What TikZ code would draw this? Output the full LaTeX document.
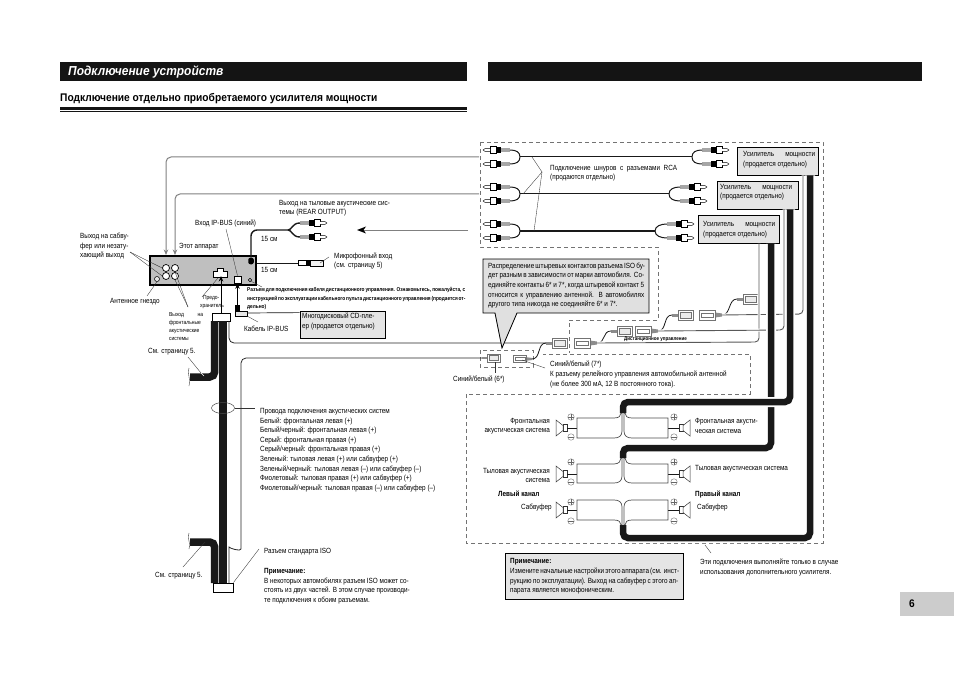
\documentclass[tikz,border=0pt]{standalone}
\usepackage{fontspec}
\usetikzlibrary{arrows.meta,shapes.geometric}
\setmainfont[FakeStretch=0.85]{Liberation Sans}
\newfontfamily\headfont[FakeStretch=0.92]{Liberation Sans}
\newcommand{\jline}[2]{\makebox[#1pt][s]{#2}}

\begin{document}
\begin{tikzpicture}[x=1pt,y=-1pt]
    \tikzstyle{arrow} = [line width=0.5pt,-{Stealth[length=5.5pt,width=4.5pt]}]
    \tikzstyle{pointer} = [line width=0.35pt,black!80]
    \tikzstyle{graywire} = [line width=1pt,black!50,rounded corners=5pt]
    \tikzstyle{thinwire} = [line width=0.9pt,black!65,rounded corners=4pt,preaction={draw=white,line width=3pt}]
    \tikzstyle{blackwire} = [line width=1.4pt,black!90]
    \tikzstyle{blackcable} = [line width=6.5pt,black!90,rounded corners=5pt,preaction={draw=white,line width=10pt}]
    \tikzstyle{strip} = [line width=7.5pt,black!90,rounded corners=5pt]
    \tikzstyle{railwire} = [line width=0.7pt,black!70]
    \tikzstyle{longwire} = [line width=0.8pt,black!85,rounded corners=5pt]
    \tikzstyle{dashline} = [line width=0.6pt,black!55,dash pattern=on 4pt off 3pt]
    \tikzstyle{txt} = [inner sep=0pt,anchor=west,align=left,font=\fontsize{7.5}{9.6}\selectfont,black]
    \tikzstyle{tiny} = [txt,font=\fontsize{5.8}{8.3}\selectfont]
    \tikzstyle{ampbox} = [draw=black,line width=0.8pt,fill=black!10,minimum width=81pt,minimum height=28pt,inner sep=0pt]
    \tikzstyle{jack} = [draw=black,line width=0.7pt,fill=white,circle,minimum size=7pt,inner sep=0pt]
    \tikzstyle{polar} = [draw=black!60,line width=0.35pt,circle,minimum size=6.5pt,inner sep=0pt]
    \tikzstyle{polplus} = [polar,path picture={\draw[black!60,line width=0.35pt] (path picture bounding box.west) -- (path picture bounding box.east) (path picture bounding box.north) -- (path picture bounding box.south);}]
    \tikzstyle{polminus} = [polar,path picture={\draw[black!60,line width=0.35pt] (path picture bounding box.west) -- (path picture bounding box.east);}]
    \tikzset{
        rcaplug/.pic={
            \fill[black!35] (-9,-1.6) rectangle (0,1.6);
            \fill[black] (-14,-3.4) rectangle (-9,3.4);
            \draw[line width=0.4pt,fill=white] (-20,-3.4) rectangle (-14,3.4);
            \draw[line width=0.4pt,fill=white] (-20,-1.4) -- (-25,-1.4) -- (-27,0) -- (-25,1.4) -- (-20,1.4);
        },
        sockplug/.pic={
            \fill[black!45] (0,-1.5) rectangle (6,1.5);
            \draw[line width=0.4pt,black!55,fill=white] (6,-5) rectangle (21,5);
            \draw[line width=0.3pt,black!55,fill=black!8] (8.5,-3) rectangle (19,3);
        },
        pinplug/.pic={
            \fill[black!45] (0,-1.5) -- (7,-2.5) -- (7,2.5) -- (0,1.5) -- cycle;
            \draw[line width=0.4pt,black!55,fill=white] (7,-5) rectangle (23,5);
            \draw[line width=0.3pt,black!55] (9,-2) rectangle (21,2);
        },
        speaker/.pic={
            \draw[line width=0.5pt,black!80,fill=white] (-4,-3.5) rectangle (0,3.5);
            \draw[line width=0.5pt,black!80,fill=white] (-4,-2.5) -- (-11,-8) -- (-11,8) -- (-4,2.5) -- cycle;
        }
    }
    \useasboundingbox (0,0) rectangle (954,674);

    % Page headers
    \node [fill=black!92,minimum width=407pt,minimum height=19pt,inner sep=0pt] (HeadBarLeft) at (263.5,71.5) {};
    \node [fill=black!92,minimum width=434pt,minimum height=19pt,inner sep=0pt] (HeadBarRight) at (705,71.5) {};
    \node [inner sep=0pt,anchor=west,text=white,font=\headfont\fontsize{13}{15}\selectfont\bfseries\itshape] (PageTitle) at (68,71.5) {Подключение устройств};
    \node [inner sep=0pt,anchor=west,font=\headfont\fontsize{11.1}{12}\selectfont\bfseries] (SubTitle) at (60,99) {Подключение отдельно приобретаемого усилителя мощности};
    \fill [black!92] (60,107) rectangle (467,110);
    \fill [black!92] (60,111.5) rectangle (467,112.5);
    \node [fill=black!20,minimum width=54pt,minimum height=24pt,inner sep=0pt] (PageTab) at (927,604) {};
    \node [inner sep=0pt,font=\headfont\fontsize{11}{13}\selectfont\bfseries] (PageNumber) at (912,604) {6};

    % Dashed areas
    \draw [dashline] (480,142) -- (823,142) -- (823,543) -- (466,543) -- (466,394) -- (750,394) -- (750,354) -- (543,354);
    \draw [dashline] (480,142) -- (480,247) -- (658,247) -- (658,320) -- (569,320) -- (569,353);
    \draw [dashline] (480,350) rectangle (533,367);

    % Head unit
    \node [draw=black,line width=1.1pt,fill=black!25,minimum width=106pt,minimum height=29pt,inner sep=0pt] (HeadUnit) at (203,270.5) {};
    \node [jack] (JackA) at (166,268) {};
    \node [jack] (JackB) at (175,268) {};
    \node [jack] (JackC) at (166,276) {};
    \node [jack] (JackD) at (175,276) {};
    \node [draw=black,line width=0.5pt,fill=black!10,circle,minimum size=5pt,inner sep=0pt] (AntennaJack) at (157,279) {};
    \node [draw=black,line width=0.4pt,circle,minimum size=3.5pt,inner sep=0pt] (RemoteJack) at (250,280) {};
    \draw [line width=0.7pt,fill=white] (213,271) -- (217,271) -- (217,268) -- (223,268) -- (223,271) -- (227,271) -- (227,277) -- (213,277) -- cycle;
    \node [draw=black,line width=0.7pt,fill=white,minimum width=7pt,minimum height=7pt,inner sep=0pt] (IpBusSocket) at (237.5,279.5) {};
    \node [fill=black,rounded corners=2pt,minimum width=5.5pt,minimum height=6.5pt,inner sep=0pt] (RearOut) at (251,261) {};

    % Gray wires coming from the amplifiers
    \coordinate (GrayTopEnd) at (479,157);
    \coordinate (GrayMidEnd) at (479,194);
    \coordinate (GrayTopTip) at (166,255);
    \coordinate (GrayMidTip) at (175,255);
    \draw [graywire,arrow,line width=1pt,black!50] (GrayTopEnd) -- (166,157) -- (GrayTopTip);
    \draw [graywire,arrow,line width=1pt,black!50] (GrayMidEnd) -- (175,194) -- (GrayMidTip);

    % Rear output with its two plugs
    \coordinate (RearPlugA) at (300,223);
    \coordinate (RearPlugB) at (300,237);
    \coordinate (RearSplit) at (288,230);
    \pic [xscale=-1] at (RearPlugA) {rcaplug};
    \pic [xscale=-1] at (RearPlugB) {rcaplug};
    \draw [blackwire,rounded corners=6pt] (RearOut.north) -- (251,230) -- (RearSplit);
    \draw [blackwire] (RearSplit) .. controls (292,230) and (292,223) .. (RearPlugA);
    \draw [blackwire] (RearSplit) .. controls (292,230) and (292,237) .. (RearPlugB);
    \coordinate (BigArrowEnd) at (468,230);
    \draw [graywire,line width=0.7pt] (BigArrowEnd) -- (362,230);
    \fill [black] (357,230) -- (366,226.5) -- (363.5,230) -- (366,233.5) -- cycle;

    % Microphone input
    \coordinate (MicPlug) at (298,263);
    \draw [blackwire,line width=0.9pt] (HeadUnit.east |- MicPlug) -- (MicPlug);
    \draw [line width=0.4pt,fill=white] (298,260.5) rectangle (306,265.5);
    \fill [black] (306,260) rectangle (310,266);
    \draw [line width=0.4pt,fill=black!5] (310,260) rectangle (323,266);

    % ISO connectors and the wiring loom
    \node [draw=black,line width=0.8pt,fill=white,minimum width=18pt,minimum height=8pt,inner sep=0pt] (IsoTop) at (221,317) {};
    \node [draw=black,line width=0.8pt,fill=white,minimum width=20pt,minimum height=9pt,inner sep=0pt] (IsoBottom) at (223,587.5) {};
    \draw [strip] (223,321) -- (223,583);
    \draw [strip] (214.7,321) -- (214.7,377) -- (190,377);
    \draw [strip] (190,542) -- (214.7,542) -- (214.7,583);
    \draw [line width=0.3pt] (189,368) .. controls (187,373) and (191,380) .. (189,386);
    \draw [line width=0.3pt] (189,533) .. controls (187,538) and (191,544) .. (189,549);
    \draw [arrow,line width=0.9pt] (IsoTop.north) -- (221,276);
    \node [draw=black!70,line width=0.5pt,ellipse,minimum width=23pt,minimum height=11pt,inner sep=0pt] (LoomMark) at (223,408) {};

    % Long thin wires from the ISO connectors
    \coordinate (AntennaSix) at (482,358);
    \coordinate (AntennaSeven) at (532,359);
    \coordinate (PlugPairA) at (546,343);
    \coordinate (PlugPairB) at (597,343);
    \draw [longwire] (229,321) -- (229,343) -- (PlugPairA);
    \draw [longwire] (229,583) -- (229,552) .. controls (229,548) and (241,552) .. (241,544) -- (241,358) -- (AntennaSix);

    % Antenna connector chain
    \coordinate (PlugPairC) at (611,331);
    \coordinate (PlugPairD) at (658,331);
    \coordinate (PlugPairE) at (672,315);
    \coordinate (PlugPairF) at (722,315);
    \coordinate (PlugPairG) at (737,299);
    \pic [scale=0.85] at (AntennaSix) {sockplug};
    \pic [xscale=-0.8,yscale=0.7] at (AntennaSeven) {pinplug};
    \pic at (PlugPairA) {sockplug};
    \pic [xscale=-1] at (PlugPairB) {pinplug};
    \pic at (PlugPairC) {sockplug};
    \pic [xscale=-1] at (PlugPairD) {pinplug};
    \pic at (PlugPairE) {sockplug};
    \pic [xscale=-1] at (PlugPairF) {pinplug};
    \pic at (PlugPairG) {sockplug};
    \draw [blackwire,line width=0.8pt] (AntennaSeven) .. controls (541,359) and (537,343) .. (PlugPairA);
    \draw [blackwire,line width=0.8pt] (PlugPairB) .. controls (606,343) and (602,331) .. (PlugPairC);
    \draw [blackwire,line width=0.8pt] (PlugPairD) .. controls (667,331) and (663,315) .. (PlugPairE);
    \draw [blackwire,line width=0.8pt] (PlugPairF) .. controls (731,315) and (728,299) .. (PlugPairG);

    % Amplifiers
    \node [ampbox] (AmpFirst) at (778,161) {};
    \node [ampbox] (AmpSecond) at (757.5,195) {};
    \node [ampbox] (AmpThird) at (739,229.5) {};
    \node [txt] (AmpFirstText) at (743,159.5) {\jline{72}{Усилитель мощности}\\(продается отдельно)};
    \node [txt] (AmpSecondText) at (720,192) {\jline{72}{Усилитель мощности}\\(продается отдельно)};
    \node [txt] (AmpThirdText) at (703,229.5) {\jline{72}{Усилитель мощности}\\(продается отдельно)};

    % RCA cords
    \coordinate (RcaTopA) at (510,150);
    \coordinate (RcaTopB) at (510,164);
    \coordinate (RcaTopLeft) at (520,157);
    \coordinate (RcaTopRight) at (692,157);
    \coordinate (RcaTopC) at (702,150);
    \coordinate (RcaTopD) at (702,164);
    \pic at (RcaTopA) {rcaplug};
    \pic at (RcaTopB) {rcaplug};
    \pic [xscale=-1] at (RcaTopC) {rcaplug};
    \pic [xscale=-1] at (RcaTopD) {rcaplug};
    \draw [blackwire,line width=1pt] (RcaTopLeft) -- (RcaTopRight);
    \draw [blackwire,line width=1pt] (RcaTopA) .. controls (516,150) and (520,152) .. (RcaTopLeft);
    \draw [blackwire,line width=1pt] (RcaTopB) .. controls (516,164) and (520,162) .. (RcaTopLeft);
    \draw [blackwire,line width=1pt] (RcaTopC) .. controls (696,150) and (692,152) .. (RcaTopRight);
    \draw [blackwire,line width=1pt] (RcaTopD) .. controls (696,164) and (692,162) .. (RcaTopRight);

    \coordinate (RcaMidA) at (510,187);
    \coordinate (RcaMidB) at (510,201);
    \coordinate (RcaMidLeft) at (520,194);
    \coordinate (RcaMidRight) at (669,194);
    \coordinate (RcaMidC) at (680,187);
    \coordinate (RcaMidD) at (680,201);
    \pic at (RcaMidA) {rcaplug};
    \pic at (RcaMidB) {rcaplug};
    \pic [xscale=-1] at (RcaMidC) {rcaplug};
    \pic [xscale=-1] at (RcaMidD) {rcaplug};
    \draw [blackwire,line width=1pt] (RcaMidLeft) -- (RcaMidRight);
    \draw [blackwire,line width=1pt] (RcaMidA) .. controls (516,187) and (520,189) .. (RcaMidLeft);
    \draw [blackwire,line width=1pt] (RcaMidB) .. controls (516,201) and (520,199) .. (RcaMidLeft);
    \draw [blackwire,line width=1pt] (RcaMidC) .. controls (674,187) and (669,189) .. (RcaMidRight);
    \draw [blackwire,line width=1pt] (RcaMidD) .. controls (674,201) and (669,199) .. (RcaMidRight);

    \coordinate (RcaLowA) at (510,224);
    \coordinate (RcaLowB) at (510,238);
    \coordinate (RcaLowLeft) at (520,231);
    \coordinate (RcaLowRight) at (655,231);
    \coordinate (RcaLowC) at (667,224);
    \coordinate (RcaLowD) at (667,238);
    \pic at (RcaLowA) {rcaplug};
    \pic at (RcaLowB) {rcaplug};
    \pic [xscale=-1] at (RcaLowC) {rcaplug};
    \pic [xscale=-1] at (RcaLowD) {rcaplug};
    \draw [blackwire,line width=1.8pt] (RcaLowLeft) -- (RcaLowRight);
    \draw [blackwire,line width=1pt] (RcaLowA) .. controls (516,224) and (520,226) .. (RcaLowLeft);
    \draw [blackwire,line width=1pt] (RcaLowB) .. controls (516,238) and (520,236) .. (RcaLowLeft);
    \draw [blackwire,line width=1pt] (RcaLowC) .. controls (661,224) and (655,226) .. (RcaLowRight);
    \draw [blackwire,line width=1pt] (RcaLowD) .. controls (661,238) and (655,236) .. (RcaLowRight);

    % Thin wires down from the amplifiers
    \draw [thinwire] ([xshift=25pt]AmpFirst.south) -- (803,314) -- (PlugPairF);
    \draw [thinwire] ([xshift=20pt]AmpThird.south) -- (759,342) -- (PlugPairB);
    \draw [thinwire] ([xshift=26.5pt]AmpSecond.south) -- (784,330) -- (PlugPairD);

    % Thick cables to the speakers
    \coordinate (FrontStub) at (623,413);
    \coordinate (RearStub) at (623,458);
    \coordinate (SubStub) at (623,525);
    \draw [blackcable] ([xshift=32pt]AmpFirst.south) -- (810,538) -- (623,538) -- (SubStub);
    \draw [blackcable] ([xshift=32pt]AmpThird.south) -- (771,448) -- (623,448) -- (RearStub);
    \draw [blackcable] ([xshift=32.5pt]AmpSecond.south) -- (790,402) -- (623,402) -- (FrontStub);

    % Front speakers
    \coordinate (FrontLeftWire) at (567,428);
    \coordinate (FrontRightWire) at (679,428);
    \coordinate (FrontLeftRail) at (577,428);
    \coordinate (FrontRightRail) at (668,428);
    \pic at (FrontLeftWire) {speaker};
    \pic [xscale=-1] at (FrontRightWire) {speaker};
    \draw [blackwire,line width=0.7pt] (FrontLeftWire) -- (FrontLeftRail);
    \draw [blackwire,line width=0.7pt] (FrontRightWire) -- (FrontRightRail);
    \draw [railwire] (621,413) .. controls (621,416) and (619,418) .. (614,418) -- (577,418) -- (577,438) -- (614,438) .. controls (619,438) and (622,436) .. (622,431) -- (622,413);
    \draw [railwire] (625,413) .. controls (625,416) and (627,418) .. (632,418) -- (668,418) -- (668,438) -- (632,438) .. controls (627,438) and (624,436) .. (624,431) -- (624,413);
    \node [polplus] (FrontLeftPlus) at (571,417) {};
    \node [polminus] (FrontLeftMinus) at (571,437) {};
    \node [polplus] (FrontRightPlus) at (674,417) {};
    \node [polminus] (FrontRightMinus) at (674,437) {};

    % Rear speakers
    \coordinate (RearLeftWire) at (567,474);
    \coordinate (RearRightWire) at (679,474);
    \coordinate (RearLeftRail) at (577,474);
    \coordinate (RearRightRail) at (668,474);
    \pic at (RearLeftWire) {speaker};
    \pic [xscale=-1] at (RearRightWire) {speaker};
    \draw [blackwire,line width=0.7pt] (RearLeftWire) -- (RearLeftRail);
    \draw [blackwire,line width=0.7pt] (RearRightWire) -- (RearRightRail);
    \draw [railwire] (621,458) .. controls (621,461) and (619,464) .. (614,464) -- (577,464) -- (577,483) -- (614,483) .. controls (619,483) and (622,481) .. (622,476) -- (622,458);
    \draw [railwire] (625,458) .. controls (625,461) and (627,464) .. (632,464) -- (668,464) -- (668,483) -- (632,483) .. controls (627,483) and (624,481) .. (624,476) -- (624,458);
    \node [polplus] (RearLeftPlus) at (571,462) {};
    \node [polminus] (RearLeftMinus) at (571,482) {};
    \node [polplus] (RearRightPlus) at (674,462) {};
    \node [polminus] (RearRightMinus) at (674,482) {};

    % Subwoofers
    \coordinate (SubLeftWire) at (567,510);
    \coordinate (SubRightWire) at (679,510);
    \coordinate (SubLeftRail) at (577,510);
    \coordinate (SubRightRail) at (668,510);
    \pic at (SubLeftWire) {speaker};
    \pic [xscale=-1] at (SubRightWire) {speaker};
    \draw [blackwire,line width=0.7pt] (SubLeftWire) -- (SubLeftRail);
    \draw [blackwire,line width=0.7pt] (SubRightWire) -- (SubRightRail);
    \draw [railwire] (621,525) .. controls (621,522) and (619,520) .. (614,520) -- (577,520) -- (577,500) -- (614,500) .. controls (619,500) and (622,502) .. (622,507) -- (622,525);
    \draw [railwire] (625,525) .. controls (625,522) and (627,520) .. (632,520) -- (668,520) -- (668,500) -- (632,500) .. controls (627,500) and (624,502) .. (624,507) -- (624,525);
    \node [polplus] (SubLeftPlus) at (571,502) {};
    \node [polminus] (SubLeftMinus) at (571,521) {};
    \node [polplus] (SubRightPlus) at (674,502) {};
    \node [polminus] (SubRightMinus) at (674,521) {};

    % IP-BUS cable and the CD player
    \node [draw=black,line width=0.8pt,fill=black!10,minimum width=85pt,minimum height=27pt,inner sep=0pt] (CdBox) at (342.5,324.5) {};
    \node [txt] (CdText) at (302,321.5) {Многодисковый CD-пле-\\ер (продается отдельно)};
    \coordinate (IpBusPlug) at (247,313);
    \draw [line width=0.5pt,fill=black!10] (235,311) rectangle (247,316);
    \fill [black] (235,305) rectangle (240,311);
    \draw [blackwire,line width=0.7pt] (IpBusPlug) -- ([yshift=-2pt]CdBox.north west);
    \draw [arrow,line width=0.9pt] (237.5,305) -- (IpBusSocket.south);

    % Gray callout with its pointer
    \draw [line width=0.8pt,fill=black!12] (483,259) -- (649,259) -- (649,313) -- (517,313) -- (502,348) -- (495,313) -- (483,313) -- cycle;
    \node [txt] (IsoNote) at (488,285.5) {\jline{156}{Распределение штыревых контактов разъема ISO бу-}\\\jline{156}{дет разным в зависимости от марки автомобиля. Со-}\\\jline{156}{единяйте контакты 6* и 7*, когда штыревой контакт 5}\\\jline{156}{относится к управлению антенной. В автомобилях}\\другого типа никогда не соединяйте 6* и 7*.};

    % Text with pointers, left part
    \node [txt] (SubOut) at (80,246) {Выход на сабву-\\фер или незату-\\хающий выход};
    \coordinate (SubOutEnd) at (130,252);
    \draw [pointer] (SubOutEnd) -- (JackA.west);
    \draw [pointer] (SubOutEnd) -- (JackC.west);
    \node [txt] (ThisUnit) at (179,247) {Этот аппарат};
    \node [txt] (AntennaText) at (110,302) {Антенное гнездо};
    \coordinate (AntennaEnd) at (147,296);
    \draw [pointer] (AntennaEnd) -- (AntennaJack.south);
    \node [tiny] (FuseText) at (200,302) {\hspace*{3pt}Предо-\\хранитель};
    \coordinate (FuseEnd) at (202,297);
    \draw [pointer] (FuseEnd) -- (218,278);
    \node [tiny] (FrontOut) at (169,326.5) {\jline{34}{Выход на}\\фронтальные\\акустические\\системы};
    \coordinate (FrontOutEnd) at (188,307);
    \draw [pointer] (FrontOutEnd) -- (JackB.south);
    \draw [pointer] (FrontOutEnd) -- (JackD.south);
    \node [txt] (IpBusIn) at (195,223) {Вход IP-BUS (синий)};
    \coordinate (IpBusInEnd) at (226,229);
    \draw [pointer] (IpBusInEnd) -- (IpBusSocket.north);
    \node [txt] (RearText) at (279,208) {Выход на тыловые акустические сис-\\темы (REAR OUTPUT)};
    \node [txt] (LenUpper) at (261,239) {15 см};
    \node [txt] (LenLower) at (261,270) {15 см};
    \node [txt] (MicText) at (334,261) {Микрофонный вход\\(см. страницу 5)};
    \coordinate (MicEndA) at (320,263);
    \coordinate (MicEndB) at (329,257);
    \draw [pointer] (MicEndA) -- (MicEndB);
    \node [tiny,font=\fontsize{5.6}{8.6}\selectfont\bfseries] (RemoteText) at (247,298.5) {\jline{218}{Разъем для подключения кабеля дистанционного управления. Ознакомьтесь, пожалуйста, с}\\\jline{218}{инструкцией по эксплуатации кабельного пульта дистанционного управления (продается от-}\\дельно)};
    \coordinate (RemoteEnd) at (262,287);
    \draw [pointer] (RemoteJack.south east) -- (RemoteEnd);
    \node [txt] (IpBusCable) at (244,329) {Кабель IP-BUS};
    \coordinate (IpBusCableEnd) at (258,322);
    \draw [pointer] (247,316) -- (IpBusCableEnd);
    \node [txt] (SeeTop) at (148,352) {См. страницу 5.};
    \coordinate (SeeTopA) at (188,357);
    \coordinate (SeeTopB) at (204,376);
    \draw [pointer] (SeeTopA) -- (201,373);
    \draw [pointer,white,line width=0.5pt] (201,373) -- (SeeTopB);
    \node [txt] (SeeBottom) at (155,576) {См. страницу 5.};
    \coordinate (SeeBottomA) at (183,567);
    \coordinate (SeeBottomB) at (205,542);
    \draw [pointer] (SeeBottomA) -- (SeeBottomB);
    \node [txt] (WireList) at (260,450) {Провода подключения акустических систем\\Белый: фронтальная левая (+)\\Белый/черный: фронтальная левая (+)\\Серый: фронтальная правая (+)\\Серый/черный: фронтальная правая (+)\\Зеленый: тыловая левая (+) или сабвуфер (+)\\Зеленый/черный: тыловая левая (--) или сабвуфер (--)\\Фиолетовый: тыловая правая (+) или сабвуфер (+)\\Фиолетовый/черный: тыловая правая (--) или сабвуфер (--)};
    \coordinate (LoomMarkEnd) at (255,408);
    \draw [pointer] (LoomMark.east) -- (LoomMarkEnd);
    \node [txt] (IsoText) at (264,552) {Разъем стандарта ISO};
    \coordinate (IsoTextEnd) at (259,549);
    \draw [pointer] (IsoTextEnd) -- (IsoBottom.north east);
    \node [txt] (IsoRemark) at (264,586) {\textbf{Примечание:}\\В некоторых автомобилях разъем ISO может со-\\стоять из двух частей. В этом случае производи-\\те подключения к обоим разъемам.};

    % Text with pointers, right part
    \node [txt] (RcaText) at (550,173) {\jline{127}{Подключение шнуров с разъемами RCA}\\(продаются отдельно)};
    \coordinate (RcaJoint) at (542,172);
    \draw [pointer] (RcaJoint) -- (532,157);
    \draw [pointer] (RcaJoint) -- (523,194);
    \draw [pointer] (RcaJoint) -- (534,231);
    \node [tiny,font=\fontsize{5.3}{7}\selectfont\bfseries] (RemoteLabel) at (624,339) {Дистанционное управление};
    \node [txt] (SixText) at (453,379) {Синий/белый (6*)};
    \draw [pointer] (495,362) -- (495,373);
    \node [txt] (SevenText) at (550,374.5) {Синий/белый (7*)\\К разъему релейного управления автомобильной антенной\\(не более 300 мА, 12 В постоянного тока).};
    \draw [pointer] (522,360) -- (545,368);
    \node [txt,anchor=east,align=right] (FrontLeftText) at (550,426) {Фронтальная\\акустическая система};
    \node [txt] (FrontRightText) at (695,426) {Фронтальная акусти-\\ческая система};
    \node [txt,anchor=east,align=right] (RearLeftText) at (550,475.5) {Тыловая акустическая\\система};
    \node [txt] (RearRightText) at (695,469) {Тыловая акустическая система};
    \node [txt,font=\fontsize{7.5}{9}\selectfont\bfseries] (LeftChannel) at (498,494) {Левый канал};
    \node [txt,font=\fontsize{7.5}{9}\selectfont\bfseries] (RightChannel) at (695,494) {Правый канал};
    \node [txt] (SubLeftText) at (521,508) {Сабвуфер};
    \node [txt] (SubRightText) at (697,508) {Сабвуфер};
    \coordinate (ExtraEndA) at (705,545);
    \coordinate (ExtraEndB) at (711,553);
    \draw [pointer] (ExtraEndA) -- (ExtraEndB);
    \node [txt] (ExtraText) at (700,567.5) {Эти подключения выполняйте только в случае\\использования дополнительного усилителя.};
    \node [draw=black,line width=0.8pt,fill=black!10,minimum width=178pt,minimum height=46pt,inner sep=0pt] (NoteBox) at (594,576) {};
    \node [txt] (NoteText) at (510,576.5) {\textbf{Примечание:}\\\jline{168}{Измените начальные настройки этого аппарата (см. инст-}\\\jline{168}{рукцию по эксплуатации). Выход на сабвуфер с этого ап-}\\парата является монофоническим.};
\end{tikzpicture}
\end{document}
